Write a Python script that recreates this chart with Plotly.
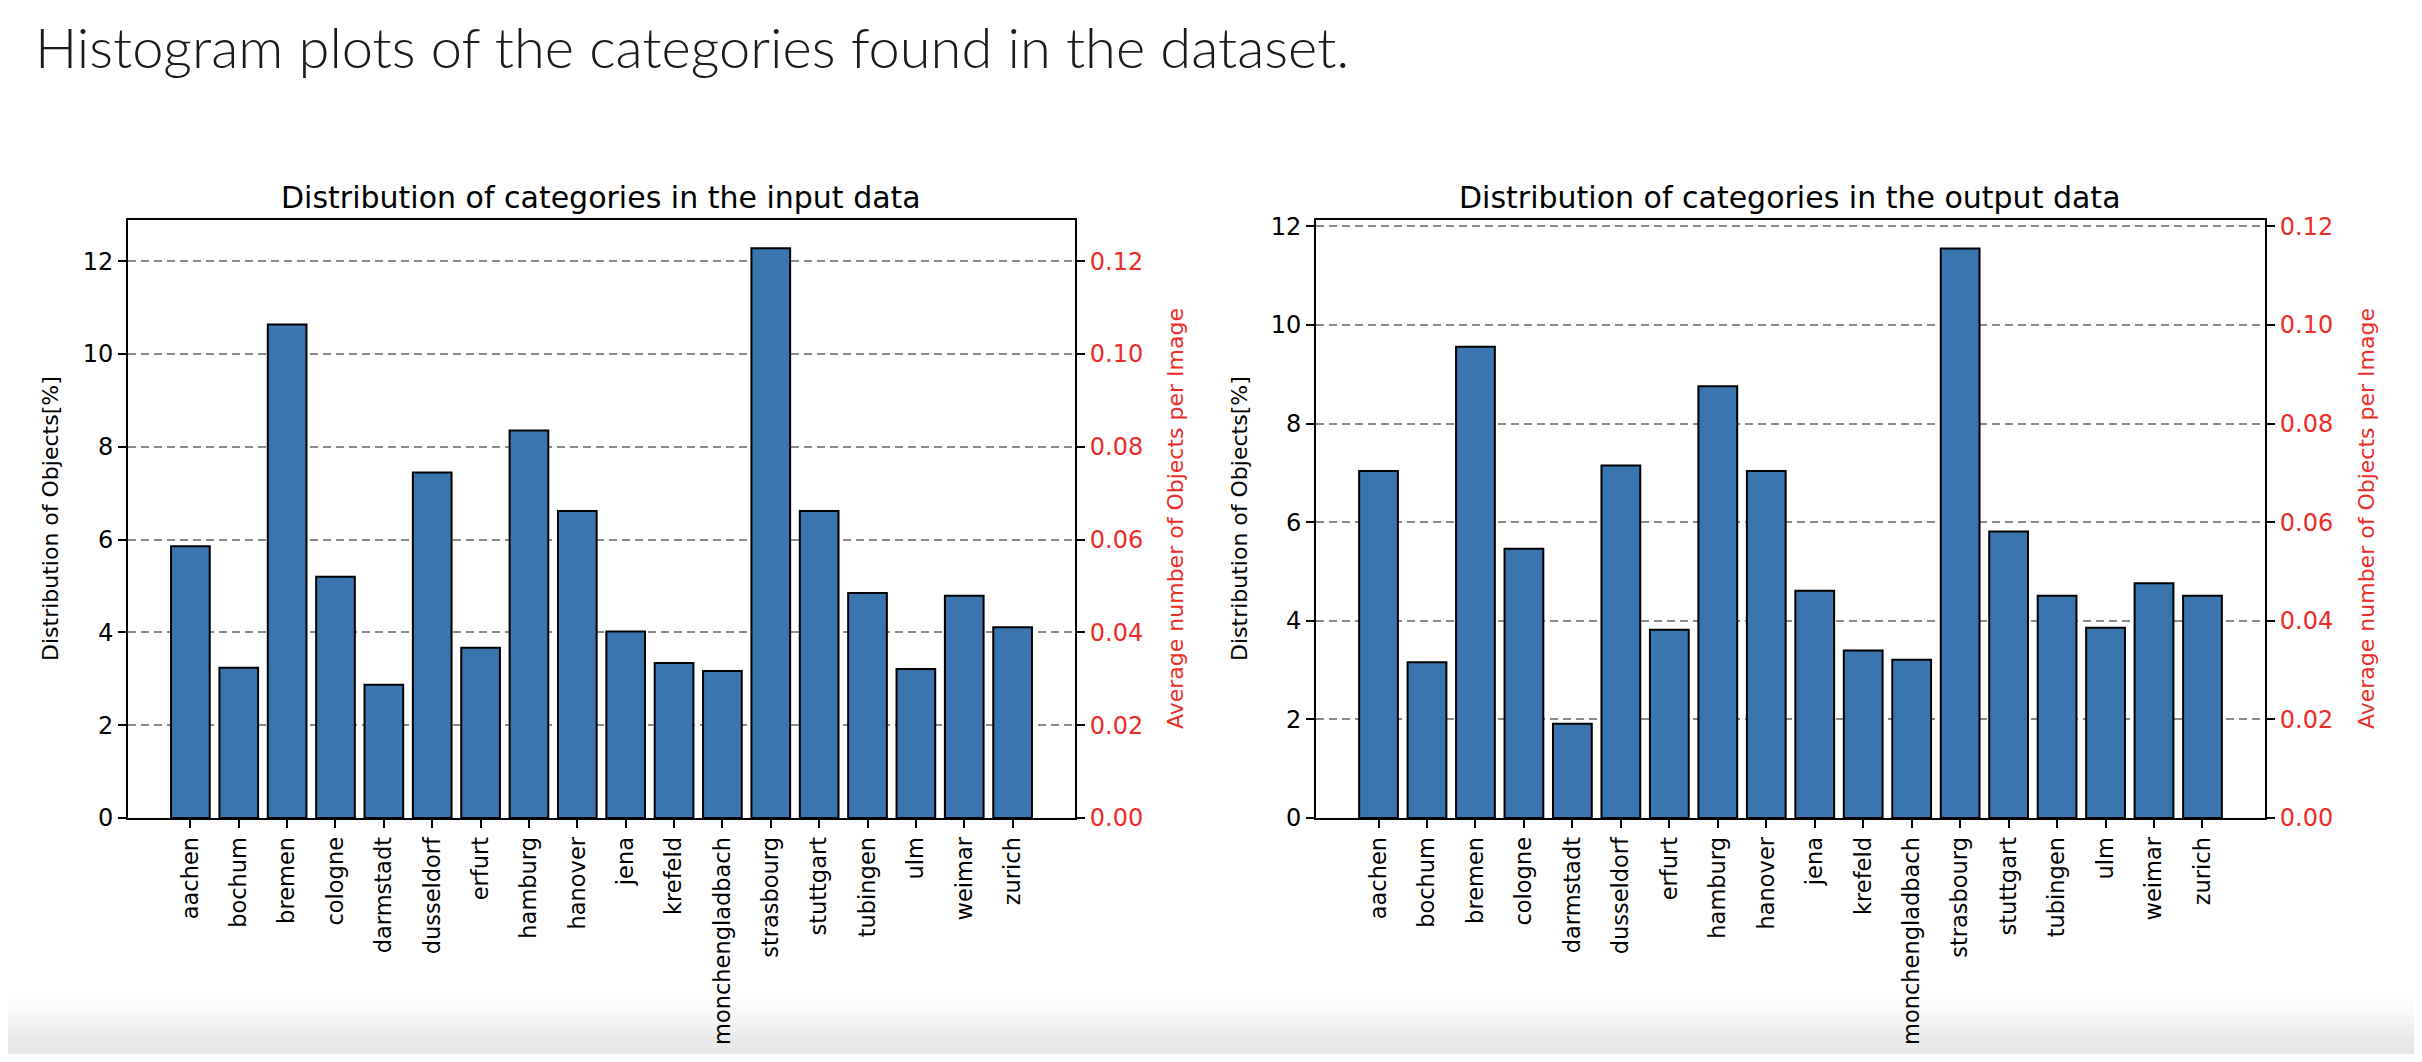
import plotly.graph_objects as go

# ---------------- data ----------------
categories = ["aachen", "bochum", "bremen", "cologne", "darmstadt", "dusseldorf",
              "erfurt", "hamburg", "hanover", "jena", "krefeld", "monchengladbach",
              "strasbourg", "stuttgart", "tubingen", "ulm", "weimar", "zurich"]
input_pct = [5.86, 3.24, 10.64, 5.20, 2.87, 7.45, 3.67, 8.35, 6.62, 4.02, 3.34, 3.17,
             12.28, 6.62, 4.85, 3.21, 4.79, 4.11]
output_pct = [7.04, 3.16, 9.56, 5.46, 1.91, 7.15, 3.82, 8.76, 7.04, 4.61, 3.40, 3.21,
              11.55, 5.81, 4.51, 3.86, 4.76, 4.51]
pct_ticks = [0, 2, 4, 6, 8, 10, 12]
avg_ticks = [0.00, 0.02, 0.04, 0.06, 0.08, 0.10, 0.12]

page_title = "Histogram plots of the categories found in the dataset."
left_title = "Distribution of categories in the input data"
right_title = "Distribution of categories in the output data"
ylabel = "Distribution of Objects[%]"
y2label = "Average number of Objects per Image"

# ---------------- style ----------------
PAGE_W, PAGE_H = 2422, 1062
OFF = 8  # default body margin of the html page
W, H = PAGE_W - 2 * OFF, PAGE_H - 2 * OFF
BAR = "#3b75af"
RED = "#ec2d27"
FONT = "DejaVu Sans"


def px(x):
    return (x - OFF) / W


def py(y):
    return 1 - (y - OFF) / H


fig = go.Figure()

fig.add_trace(go.Bar(x=categories, y=input_pct, xaxis="x", yaxis="y",
                     marker=dict(color=BAR, line=dict(color="black", width=2)),
                     showlegend=False))
fig.add_trace(go.Scatter(x=[], y=[], xaxis="x", yaxis="y2", showlegend=False))
fig.add_trace(go.Bar(x=categories, y=output_pct, xaxis="x2", yaxis="y3",
                     marker=dict(color=BAR, line=dict(color="black", width=2)),
                     showlegend=False))
fig.add_trace(go.Scatter(x=[], y=[], xaxis="x2", yaxis="y4", showlegend=False))

common_x = dict(tickangle=-90, ticks="outside", ticklen=8, tickwidth=2, tickcolor="black",
                showline=True, linecolor="black", linewidth=2, mirror=True, showgrid=False,
                tickfont=dict(family=FONT, size=22.5, color="black"), range=[-1.29, 18.29],
                fixedrange=True, automargin=False)
common_y = dict(ticks="outside", ticklen=8, tickwidth=2, tickcolor="black",
                showline=True, linecolor="black", linewidth=2, zeroline=False,
                tickfont=dict(family=FONT, size=24, color="black"), tickvals=pct_ticks,
                showgrid=True, gridcolor="#8a8a8a", gridwidth=1.5, griddash="8px,5px",
                automargin=False)
common_y2 = dict(ticks="outside", ticklen=8, tickwidth=2, tickcolor="black",
                 showline=True, linecolor="black", linewidth=2, zeroline=False,
                 tickfont=dict(family=FONT, size=24, color=RED), tickvals=avg_ticks,
                 tickformat=".2f", showgrid=False, side="right", automargin=False)

ydom = [py(818), py(220)]
fig.update_layout(
    width=W, height=H, margin=dict(l=0, r=0, t=0, b=0, autoexpand=False),
    paper_bgcolor="white", plot_bgcolor="white", bargap=0.2,
    xaxis=dict(common_x, domain=[px(128), px(1075)], anchor="y"),
    yaxis=dict(common_y, domain=ydom, anchor="x", range=[0, 12.89]),
    yaxis2=dict(common_y2, overlaying="y", anchor="x", range=[0, 0.1289]),
    xaxis2=dict(common_x, domain=[px(1316), px(2265)], anchor="y3"),
    yaxis3=dict(common_y, domain=ydom, anchor="x2", range=[0, 12.13]),
    yaxis4=dict(common_y2, overlaying="y3", anchor="x2", range=[0, 0.1213]),
)

ann = []
ann.append(dict(text=page_title, x=px(33), y=py(46), xanchor="left", yanchor="middle",
                font=dict(family="Lato", size=56, color="#1a1a1a", weight=300)))
ann.append(dict(text=left_title, x=px(601), y=py(198), xanchor="center", yanchor="middle",
                font=dict(family=FONT, size=30, color="black")))
ann.append(dict(text=right_title, x=px(1790), y=py(198), xanchor="center", yanchor="middle",
                font=dict(family=FONT, size=30, color="black")))
for xc, txt, col in [(50, ylabel, "black"), (1175, y2label, RED),
                     (1239, ylabel, "black"), (2366, y2label, RED)]:
    ann.append(dict(text=txt, x=px(xc), y=py(519), xanchor="center", yanchor="middle",
                    textangle=-90, font=dict(family=FONT, size=22, color=col)))
for a in ann:
    a.update(xref="paper", yref="paper", showarrow=False)
fig.update_layout(annotations=ann)

# bottom page shadow
shade = ["#fefefe", "#fcfcfc", "#fafafa", "#f7f7f7", "#f4f4f4", "#f1f1f1",
         "#eeeeee", "#ebebeb", "#e9e9e9", "#e7e7e7"]
band_top, band_h = 992, 6.2
shapes = []
for i, c in enumerate(shade):
    shapes.append(dict(type="rect", xref="paper", yref="paper", x0=0, x1=1,
                       y0=py(band_top + (i + 1) * band_h + 0.5), y1=py(band_top + i * band_h),
                       fillcolor=c, line=dict(width=0), layer="below"))
fig.update_layout(shapes=shapes)

fig.write_html("out.html")
